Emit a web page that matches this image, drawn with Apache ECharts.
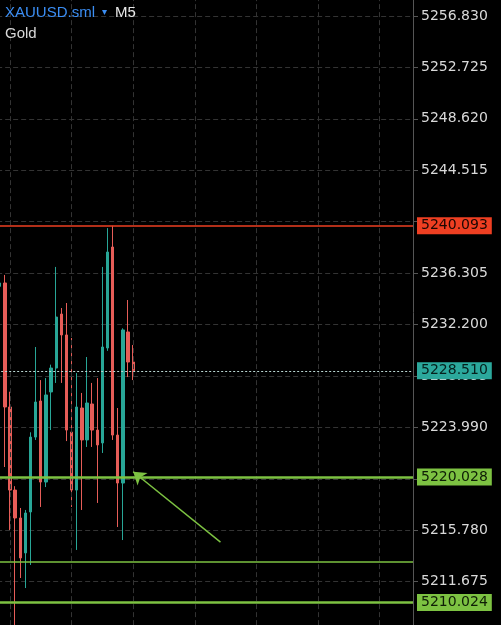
<!DOCTYPE html>
<html>
<head>
<meta charset="utf-8">
<title>XAUUSD.sml M5</title>
<script src="https://cdn.jsdelivr.net/npm/echarts@6.0.0/dist/echarts.min.js"></script>
<style>
  html, body { margin: 0; padding: 0; background: #000; }
  #main { width: 501px; height: 625px; }
</style>
</head>
<body>
<div id="main"></div>
<script>
// M5 candles, [open, close, low, high]
const candles = [
  [5235.25, 5235.52, 5235.00, 5235.70],
  [5235.52, 5225.62, 5220.83, 5236.16],
  [5225.62, 5218.99, 5215.80, 5226.84],
  [5218.99, 5216.76, 5207.50, 5219.30],
  [5216.76, 5213.57, 5211.97, 5217.56],
  [5213.97, 5217.16, 5211.17, 5217.40],
  [5217.24, 5223.22, 5213.01, 5223.60],
  [5223.22, 5226.02, 5222.99, 5230.41],
  [5226.10, 5219.63, 5217.64, 5227.77],
  [5219.63, 5226.58, 5219.23, 5227.93],
  [5226.82, 5228.73, 5223.78, 5229.00],
  [5228.73, 5232.80, 5227.54, 5236.80],
  [5233.04, 5231.37, 5227.54, 5233.52],
  [5231.37, 5223.78, 5222.90, 5233.92],
  [5223.62, 5218.99, 5217.64, 5231.13],
  [5218.99, 5225.62, 5214.21, 5228.33],
  [5225.54, 5222.99, 5217.40, 5226.74],
  [5222.99, 5225.94, 5222.43, 5229.61],
  [5225.86, 5223.78, 5222.43, 5227.54],
  [5223.78, 5222.59, 5217.96, 5227.93],
  [5222.75, 5230.41, 5221.95, 5236.80],
  [5230.33, 5237.99, 5230.10, 5239.90],
  [5238.39, 5223.38, 5222.99, 5240.09],
  [5223.38, 5219.55, 5216.04, 5225.54],
  [5219.55, 5231.77, 5215.00, 5231.90],
  [5231.61, 5229.21, 5228.01, 5234.16],
  [5229.21, 5228.51, 5227.77, 5230.57]
];

// visible bar slots (past + empty space on the right)
const slotCount = 81;
const categories = [];
for (let i = 0; i < slotCount; i++) categories.push(String(i));
// vertical grid every 12 bars
const gridSlots = [2, 14, 26, 38, 50, 62, 74];

// price scale
const priceMin = 5207.570;
const priceMax = 5260.935;
const priceStep = 4.105;

// levels drawn on the chart
const dayHigh = 5240.093;
const lastPrice = 5228.510;
const greenLevels = [5220.028, 5210.024];
const greenThin = 5213.27;
// arrow: [slot, price] from -> to
const arrowFrom = [43, 5214.84];
const arrowTo = [26, 5220.45];

const RED = '#ee3f22';
const TEAL = '#2ba89c';
const GREEN = '#7dc242';
const UP = '#28a697';
const DOWN = '#e65d58';
const GRIDC = '#333';

function levelLabel(v, bg, fg) {
  return {
    show: true,
    position: 'end',
    distance: 4,
    formatter: v.toFixed(3),
    backgroundColor: bg,
    color: fg,
    fontFamily: 'DejaVu Sans',
    fontSize: 14,
    lineHeight: 14,
    padding: [2, 4, 1, 4]
  };
}

// axis labels sitting right under a level tag are covered in the original
const tagged = [dayHigh, greenLevels[0], greenLevels[1]];

let myChart = echarts.init(document.getElementById('main'), null, { renderer: 'canvas' });

let option = {
  backgroundColor: '#000',
  animation: false,
  title: {
    left: 5,
    top: 5,
    padding: 0,
    text: '{sym|XAUUSD.sml}{tri|▾}{tf|M5}',
    textStyle: {
      fontWeight: 'normal',
      rich: {
        sym: { color: '#3b8ef4', fontSize: 15, fontWeight: 'normal', fontFamily: 'Liberation Sans' },
        tri: { color: '#3b8ef4', fontSize: 10, fontFamily: 'DejaVu Sans', padding: [0, 8, 0, 7] },
        tf: { color: '#e8e8e8', fontSize: 15, fontWeight: 'normal', fontFamily: 'Liberation Sans' }
      }
    },
    subtext: 'Gold',
    subtextStyle: { color: '#d8d8d8', fontSize: 15, fontFamily: 'Liberation Sans' },
    itemGap: 6
  },
  grid: {
    left: -2.835,
    right: 88,
    top: -35.43,
    bottom: -8.13,
    outerBoundsMode: 'none',
    containLabel: false
  },
  xAxis: {
    type: 'category',
    data: categories,
    boundaryGap: true,
    axisLine: { show: false },
    axisTick: { show: false },
    axisLabel: { show: false },
    splitLine: { show: false }
  },
  yAxis: {
    type: 'value',
    position: 'right',
    min: priceMin,
    max: priceMax,
    interval: priceStep,
    axisLine: { show: true, lineStyle: { color: '#555', width: 1 } },
    axisTick: { show: true, length: 5, lineStyle: { color: '#555' } },
    axisLabel: {
      margin: 8,
      color: '#d9d9d9',
      fontSize: 14,
      fontFamily: 'DejaVu Sans',
      formatter: function (v) {
        for (let t of tagged) {
          if (Math.abs(v - t) < 0.35) return '';
        }
        return v.toFixed(3);
      }
    },
    splitLine: {
      show: true,
      lineStyle: { color: GRIDC, width: 1, type: [5, 3] }
    }
  },
  series: [
    {
      // vertical dashed grid through bar centres
      name: 'vgrid',
      type: 'line',
      data: [],
      z: 1,
      silent: true,
      markLine: {
        silent: true,
        symbol: 'none',
        animation: false,
        label: { show: false },
        lineStyle: { color: GRIDC, width: 1, type: [5, 3] },
        data: gridSlots.map(function (s) { return { xAxis: categories[s] }; })
      }
    },
    {
      name: 'XAUUSD.sml',
      type: 'candlestick',
      data: candles,
      barWidth: 2.8,
      clip: false,
      z: 2,
      itemStyle: {
        color: UP,
        color0: DOWN,
        borderColor: UP,
        borderColor0: DOWN,
        borderWidth: 1
      }
    },
    {
      name: 'levels',
      type: 'line',
      data: [],
      z: 3,
      silent: true,
      markLine: {
        silent: true,
        symbol: 'none',
        animation: false,
        label: { show: false },
        data: [
          { yAxis: lastPrice, lineStyle: { color: '#b9d6d2', width: 1, type: [2, 2] }, label: levelLabel(lastPrice, TEAL, '#06201d') },
          { yAxis: greenLevels[0], lineStyle: { color: GREEN, width: 2.5, type: 'solid' }, label: levelLabel(greenLevels[0], GREEN, '#0f1e06') },
          { yAxis: greenThin, lineStyle: { color: GREEN, width: 1.5, type: 'solid' } },
          { yAxis: greenLevels[1], lineStyle: { color: GREEN, width: 2.5, type: 'solid' }, label: levelLabel(greenLevels[1], GREEN, '#0f1e06') },
          { yAxis: dayHigh, lineStyle: { color: RED, width: 1.6, type: 'solid' }, label: levelLabel(dayHigh, RED, '#1c0703') }
        ]
      }
    },
    {
      name: 'arrow',
      type: 'line',
      data: [],
      z: 3,
      silent: true,
      markLine: {
        silent: true,
        symbol: ['none', 'arrow'],
        symbolSize: 12,
        animation: false,
        label: { show: false },
        lineStyle: { color: GREEN, width: 1.5, type: 'solid' },
        data: [
          [
            { coord: [categories[arrowFrom[0]], arrowFrom[1]] },
            { coord: [categories[arrowTo[0]], arrowTo[1]] }
          ]
        ]
      }
    }
  ]
};

myChart.setOption(option);
</script>
</body>
</html>
